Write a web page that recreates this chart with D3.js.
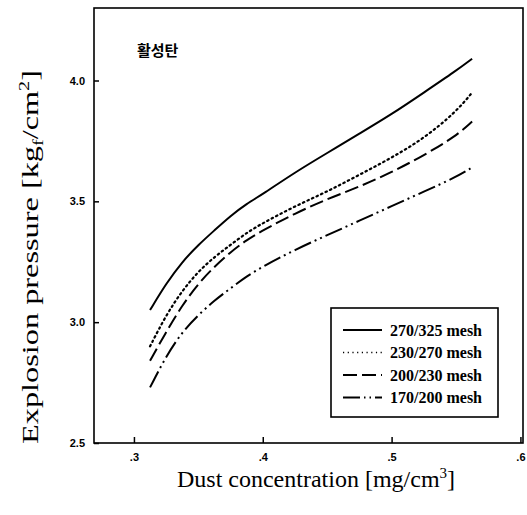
<!DOCTYPE html>
<html>
<head>
<meta charset="utf-8">
<script src="https://cdn.jsdelivr.net/npm/d3@7"></script>
<style>
  body { margin: 0; background: #fff; }
  svg { display: block; }
</style>
</head>
<body>
<svg class="chart" width="527" height="515"></svg>
<script>
// dust concentration (mg/cm3), same x for every series
let concentration = [0.3125, 0.325, 0.3375, 0.35, 0.3625, 0.375, 0.3875, 0.4, 0.425, 0.45, 0.475, 0.5, 0.525, 0.55, 0.5625];

let mesh270_325 = [3.05, 3.16, 3.25, 3.32, 3.38, 3.44, 3.49, 3.53, 3.62, 3.70, 3.78, 3.86, 3.95, 4.04, 4.09];
let mesh230_270 = [2.90, 3.03, 3.13, 3.21, 3.27, 3.32, 3.37, 3.41, 3.48, 3.54, 3.61, 3.68, 3.76, 3.87, 3.95];
let mesh200_230 = [2.84, 2.96, 3.07, 3.16, 3.23, 3.29, 3.34, 3.38, 3.45, 3.51, 3.56, 3.62, 3.69, 3.77, 3.83];
let mesh170_200 = [2.73, 2.86, 2.96, 3.03, 3.09, 3.14, 3.19, 3.23, 3.30, 3.36, 3.42, 3.48, 3.54, 3.60, 3.64];

let seriesNames = ["270/325 mesh", "230/270 mesh", "200/230 mesh", "170/200 mesh"];
let xTicks = [0.3, 0.4, 0.5, 0.6];
let yTicks = [2.5, 3.0, 3.5, 4.0];

let series = [mesh270_325, mesh230_270, mesh200_230, mesh170_200].map((vals, i) => ({
  name: seriesNames[i],
  points: vals.map((v, j) => ({ x: concentration[j], y: v }))
}));

let dashes = [null, "1.5,3.5", "14,5", "18,4,2,4,2,4"];

let margin = ({ top: 8, right: 4, bottom: 72, left: 94 });
let width = 527, height = 515;

let x = d3.scaleLinear().domain([0.269, 0.602]).range([margin.left, width - margin.right]);
let y = d3.scaleLinear().domain([2.5, 4.3]).range([height - margin.bottom, margin.top]);

let svg = d3.select(".chart");

// frame
svg.append("rect")
  .attr("x", x.range()[0]).attr("y", y.range()[1])
  .attr("width", x.range()[1] - x.range()[0]).attr("height", y.range()[0] - y.range()[1])
  .attr("fill", "none").attr("stroke", "#000").attr("stroke-width", 1.6);

// axes, ticks pointing inward
let fmtX = d => d3.format(".1f")(d).replace(/^0/, "");
svg.append("g")
  .attr("transform", `translate(0,${y.range()[0]})`)
  .call(d3.axisBottom(x).tickValues(xTicks).tickSizeInner(-6).tickSizeOuter(0).tickPadding(10).tickFormat(fmtX))
  .call(g => g.select(".domain").remove());
svg.append("g")
  .attr("transform", `translate(${x.range()[0]},0)`)
  .call(d3.axisLeft(y).tickValues(yTicks).tickSizeInner(-5).tickSizeOuter(0).tickPadding(9).tickFormat(d3.format(".1f")))
  .call(g => g.select(".domain").remove());

svg.selectAll(".tick line").attr("stroke", "#000").attr("stroke-width", 1.5);
svg.selectAll(".tick text")
  .attr("fill", "#000")
  .style("font-family", "'Liberation Sans', Arial, sans-serif")
  .style("font-weight", "bold")
  .style("font-size", "11px");

// curves
let line = d3.line().x(d => x(d.x)).y(d => y(d.y)).curve(d3.curveBasis);
svg.append("g").selectAll("path").data(series).join("path")
  .attr("d", d => line(d.points))
  .attr("fill", "none")
  .attr("stroke", "#000")
  .attr("stroke-width", (d, i) => i == 1 ? 2.2 : 2)
  .attr("stroke-linecap", (d, i) => i == 1 ? "round" : "butt")
  .attr("stroke-dasharray", (d, i) => dashes[i]);

// korean label
svg.append("text")
  .attr("x", 137).attr("y", 56)
  .style("font-family", "'Noto Sans CJK KR', sans-serif")
  .style("font-weight", "bold")
  .style("font-size", "15px")
  .text("활성탄");

// legend
let lg = svg.append("g");
lg.append("rect")
  .attr("x", 331).attr("y", 308).attr("width", 167).attr("height", 109)
  .attr("fill", "#fff").attr("stroke", "#000").attr("stroke-width", 1.6);
let rows = lg.selectAll("g.row").data(series).join("g")
  .attr("class", "row")
  .attr("transform", (d, i) => `translate(0,${330 + i * 22.5})`);
rows.append("line")
  .attr("x1", 343).attr("x2", 382)
  .attr("stroke", "#000")
  .attr("stroke-width", (d, i) => i == 1 ? 1.6 : 1.8)
  .attr("stroke-dasharray", (d, i) => i == 1 ? "1.2,3.5" : i == 2 ? "14,5" : i == 3 ? "17,4,1.5,4,1.5,4" : null);
rows.append("text")
  .attr("x", 390).attr("dy", "0.35em")
  .style("font-family", "'Liberation Serif', 'Times New Roman', serif")
  .style("font-size", "16px")
  .style("font-weight", "bold")
  .text(d => d.name);

// axis titles
let xt = svg.append("text")
  .attr("x", 316).attr("y", 487)
  .attr("text-anchor", "middle")
  .style("font-family", "'Liberation Serif', 'Times New Roman', serif")
  .style("font-size", "24px");
xt.append("tspan").text("Dust concentration [mg/cm");
xt.append("tspan").attr("dy", -9).style("font-size", "15px").text("3");
xt.append("tspan").attr("dy", 9).text("]");

let yt = svg.append("text")
  .attr("transform", "translate(38,257) rotate(-90)")
  .attr("text-anchor", "middle")
  .attr("textLength", 374)
  .attr("lengthAdjust", "spacingAndGlyphs")
  .style("font-family", "'Liberation Serif', 'Times New Roman', serif")
  .style("font-size", "24px");
yt.append("tspan").text("Explosion pressure [kg");
yt.append("tspan").attr("dy", 5).style("font-size", "15px").text("f");
yt.append("tspan").attr("dy", -5).text("/cm");
yt.append("tspan").attr("dy", -9).style("font-size", "15px").text("2");
yt.append("tspan").attr("dy", 9).text("]");
</script>
</body>
</html>
